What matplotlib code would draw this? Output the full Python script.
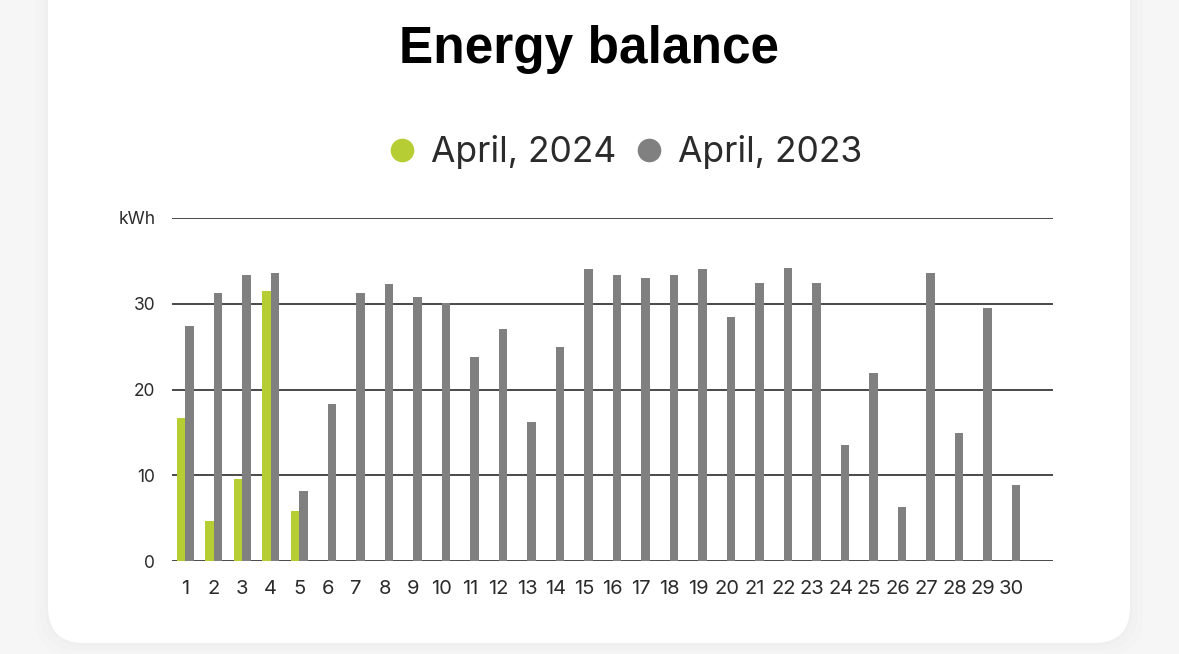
import numpy as np
import matplotlib.pyplot as plt
from matplotlib.patches import FancyBboxPatch
from matplotlib.lines import Line2D

# daily energy, kWh
days = [str(d) for d in range(1, 31)]
april_2024 = [16.7, 4.7, 9.6, 31.5, 5.8]
april_2023 = [27.4, 31.3, 33.3, 33.6, 8.2, 18.3, 31.2, 32.3, 30.8, 30.1,
              23.8, 27.1, 16.2, 24.9, 34.0, 33.4, 33.0, 33.3, 34.1, 28.5,
              32.4, 34.2, 32.4, 13.5, 21.9, 6.3, 33.6, 14.9, 29.5, 8.9]
y_ticks = [0, 10, 20, 30]

green = "#b6cd33"
grey = "#808080"
text_col = "#2b2b2b"

fig = plt.figure(figsize=(11.79, 6.54), dpi=100)
fig.patch.set_facecolor("#f6f6f6")

# card background in pixel coords
bg = fig.add_axes([0, 0, 1, 1], zorder=0)
bg.set_xlim(0, 1179)
bg.set_ylim(654, 0)
bg.axis("off")
for i, a in enumerate([0.012, 0.009, 0.006]):
    g = 3 + i * 5
    bg.add_patch(FancyBboxPatch((48 - g, -100), 1082 + 2 * g, 743 + g,
                                boxstyle="round,pad=0,rounding_size=40",
                                facecolor="black", edgecolor="none", alpha=a))
bg.add_patch(FancyBboxPatch((48, -100), 1082, 743,
                            boxstyle="round,pad=0,rounding_size=36",
                            facecolor="white", edgecolor="none"))

ax = fig.add_axes([172 / 1179, 1 - 561 / 654, 881 / 1179, 343 / 654], zorder=1)
ax.patch.set_alpha(0)

x = np.arange(len(days))
w = 0.3
ax.bar(x[:len(april_2024)] - w / 2, april_2024, width=w, color=green, zorder=3)
ax.bar(x + w / 2, april_2023, width=w, color=grey, zorder=3)

ax.set_xlim(-0.46, 30.45)
ax.set_ylim(0, 40)
ax.set_yticks(y_ticks + [40])
ax.set_yticklabels([str(t) for t in y_ticks] + ["kWh"],
                   fontsize=12.5, color=text_col, family="Inter")
ax.set_xticks(x)
ax.set_xticklabels(days, fontsize=14.5, color=text_col, family="Inter")
ax.tick_params(axis="both", length=0)
ax.tick_params(axis="y", pad=12)
ax.tick_params(axis="x", pad=14)
ax.grid(axis="y", color="#3a3a3a", linewidth=1.3, zorder=1)
for s in ax.spines.values():
    s.set_visible(False)

fig.text(589 / 1179, 1 - 49 / 654, "Energy balance", ha="center", va="center",
         fontsize=37, fontweight="bold", family="Liberation Sans", color="black")

handles = [Line2D([], [], marker="o", linestyle="none", markersize=17,
                  markerfacecolor=green, markeredgecolor="none"),
           Line2D([], [], marker="o", linestyle="none", markersize=17,
                  markerfacecolor=grey, markeredgecolor="none")]
leg = fig.legend(handles, ["April, 2024", "April, 2023"], ncol=2, frameon=False,
                 loc="center", bbox_to_anchor=(625 / 1179, 1 - 152 / 654),
                 prop={"family": "Inter", "size": 25.5},
                 handlelength=0.8, handletextpad=0.4, columnspacing=0.55)
for t in leg.get_texts():
    t.set_color(text_col)

fig.savefig("out.png", dpi=100, facecolor=fig.get_facecolor())
